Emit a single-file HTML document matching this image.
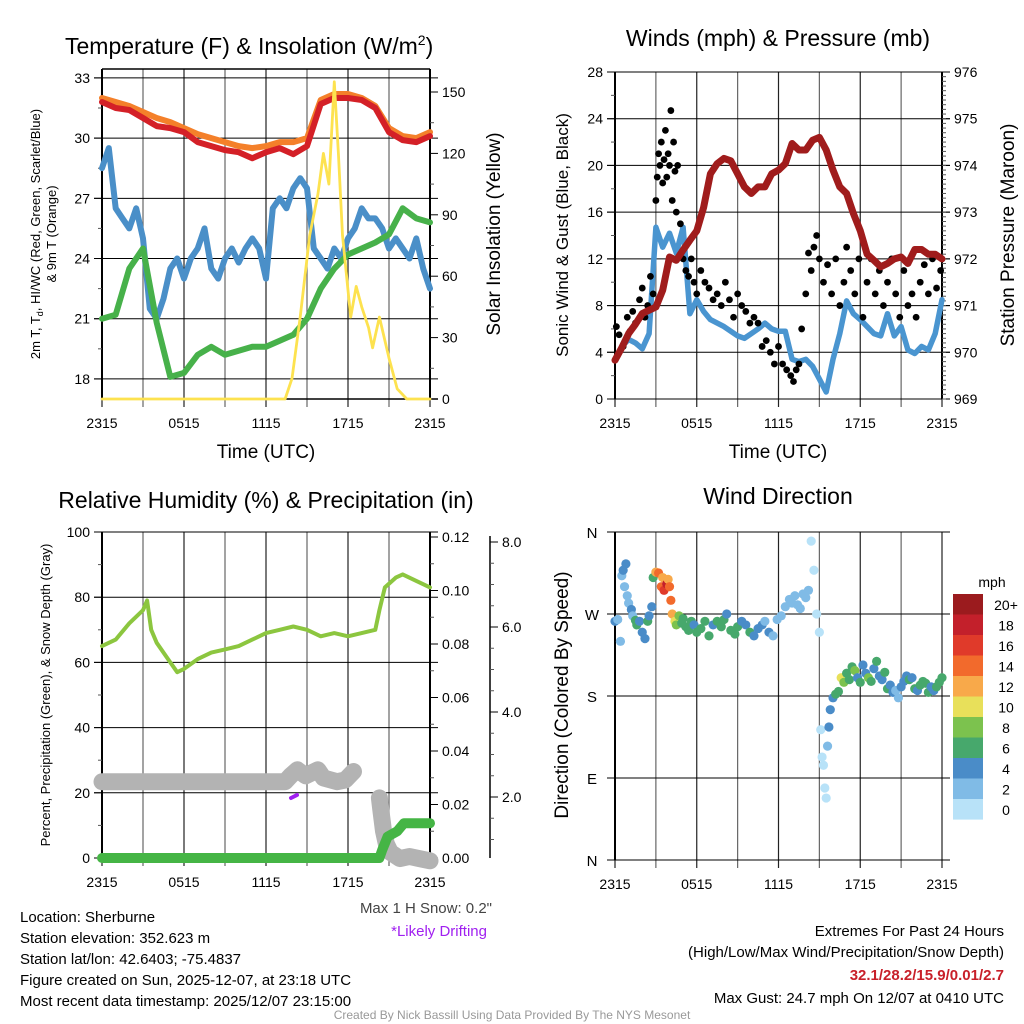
<!DOCTYPE html>
<html><head><meta charset="utf-8">
<style>
body{margin:0;background:#fff;}
svg{display:block;font-family:"Liberation Sans",sans-serif;}
</style></head><body>
<svg id="c" width="1024" height="1024" viewBox="0 0 1024 1024" xmlns="http://www.w3.org/2000/svg">
<rect width="1024" height="1024" fill="#fff"/>
<g id="g"></g>
<text x="65" y="54" font-size="23">Temperature (F) &amp; Insolation (W/m<tspan dy="-9" font-size="14">2</tspan><tspan dy="9">)</tspan></text>
<text x="778" y="46" font-size="23" text-anchor="middle">Winds (mph) &amp; Pressure (mb)</text>
<text x="266" y="508" font-size="23" text-anchor="middle">Relative Humidity (%) &amp; Precipitation (in)</text>
<text x="778" y="504" font-size="23" text-anchor="middle">Wind Direction</text>
<text x="266" y="458" font-size="19" text-anchor="middle">Time (UTC)</text>
<text x="778" y="458" font-size="19" text-anchor="middle">Time (UTC)</text>
<text transform="translate(40,234) rotate(-90)" font-size="13" text-anchor="middle">2m T, T<tspan dy="3" font-size="9">d</tspan><tspan dy="-3">, HI/WC (Red, Green, Scarlet/Blue)</tspan></text>
<text transform="translate(56,234) rotate(-90)" font-size="13" text-anchor="middle">&amp; 9m T (Orange)</text>
<text transform="translate(500,234) rotate(-90)" font-size="19" text-anchor="middle">Solar Insolation (Yellow)</text>
<text transform="translate(568,235) rotate(-90)" font-size="17" text-anchor="middle">Sonic Wind &amp; Gust (Blue, Black)</text>
<text transform="translate(1014,235) rotate(-90)" font-size="19" text-anchor="middle">Station Pressure (Maroon)</text>
<text transform="translate(50,695) rotate(-90)" font-size="13" text-anchor="middle">Percent, Precipitation (Green), &amp; Snow Depth (Gray)</text>
<text transform="translate(568,695) rotate(-90)" font-size="19" text-anchor="middle">Direction (Colored By Speed)</text>
<text x="992" y="587" font-size="14" text-anchor="middle">mph</text>
<text x="492" y="913" font-size="15" text-anchor="end" fill="#444">Max 1 H Snow: 0.2"</text>
<text x="487" y="936" font-size="15" text-anchor="end" fill="#a020f0">*Likely Drifting</text>
<g font-size="15">
<text x="20" y="922">Location: Sherburne</text>
<text x="20" y="943">Station elevation: 352.623 m</text>
<text x="20" y="964">Station lat/lon: 42.6403; -75.4837</text>
<text x="20" y="985">Figure created on Sun, 2025-12-07, at 23:18 UTC</text>
<text x="20" y="1006">Most recent data timestamp: 2025/12/07 23:15:00</text>
</g>
<g font-size="15" text-anchor="end">
<text x="1004" y="936">Extremes For Past 24 Hours</text>
<text x="1004" y="957">(High/Low/Max Wind/Precipitation/Snow Depth)</text>
<text x="1004" y="980" fill="#c8202a" font-weight="bold">32.1/28.2/15.9/0.01/2.7</text>
<text x="1004" y="1003">Max Gust: 24.7 mph On 12/07 at 0410 UTC</text>
</g>
<text x="512" y="1019" font-size="12" fill="#999" text-anchor="middle">Created By Nick Bassill Using Data Provided By The NYS Mesonet</text>
</svg>
<script>
// ---- data ----
const xTickLabels = ["2315","0515","1115","1715","2315"];
const hourly = [0,1,2,3,4,5,6,7,8,9,10,11,12,13,14,15,16,17,18,19,20,21,22,23,24];
const tempRed = [31.8,31.5,31.4,31.0,30.6,30.5,30.3,29.8,29.6,29.4,29.3,29.0,29.3,29.5,29.2,29.6,31.7,32.0,32.0,31.9,31.5,30.3,29.9,29.8,30.1];
const temp9mOrange = [32.0,31.8,31.6,31.3,31.0,30.8,30.5,30.2,30.0,29.8,29.6,29.5,29.6,29.8,29.8,30.0,31.9,32.2,32.2,32.0,31.6,30.5,30.1,30.0,30.3];
const dewGreen = [21.0,21.2,23.5,24.5,20.8,18.1,18.3,19.2,19.6,19.2,19.4,19.6,19.6,19.9,20.2,21.0,22.5,23.5,24.2,24.5,24.8,25.2,26.5,26.0,25.8];
const halfHourly = [0,0.5,1,1.5,2,2.5,3,3.5,4,4.5,5,5.5,6,6.5,7,7.5,8,8.5,9,9.5,10,10.5,11,11.5,12,12.5,13,13.5,14,14.5,15,15.5,16,16.5,17,17.5,18,18.5,19,19.5,20,20.5,21,21.5,22,22.5,23,23.5,24];
const windChillBlue = [28.5,29.5,26.5,26,25.5,26.5,25,21.5,21,22,23.5,24,23,24,24.5,25.5,23.5,23,24,24.5,23.8,24.5,25,24.5,23,26.5,27,26.5,27.5,28,27.5,24.5,24,23.5,24.5,24,25,25.5,26.5,26,26,25.5,24.5,25,24.5,24,25,23.5,22.5];
const solarH = [0,13.4,13.9,14.5,15.2,15.8,16.2,16.6,17.0,17.3,17.6,17.9,18.2,18.6,19.0,19.5,19.8,20.3,21.0,21.6,22.3,24];
const solarV = [0,0,10,40,80,100,120,105,155,120,80,60,40,55,45,35,25,40,20,5,0,0];
const windBlue = [3.4,4.5,5.1,4.8,4.3,5.6,14.7,13,14.2,12.5,14.7,7.3,8.5,7.5,6.8,6.5,6.2,5.8,5.4,5.2,5.6,6.0,6.5,6.0,5.8,5.8,3.4,3.2,3.4,2.8,1.7,0.6,3.4,5.6,8.4,7.3,6.8,6.2,5.6,5.4,7.3,5.4,6.2,4.2,3.9,4.5,4.2,5.6,8.5];
const pressure = [969.83,970.1,970.4,970.6,970.83,970.9,970.97,971.33,972.04,971.97,972.19,972.4,972.6,973.1,973.82,974.04,974.15,974.1,973.82,973.54,973.4,973.54,973.54,973.82,973.9,974.04,974.47,974.33,974.33,974.54,974.6,974.33,973.9,973.54,973.4,972.97,972.6,972.1,971.97,971.83,971.9,972.0,972.04,971.9,972.2,972.2,972.1,972.1,972.0];
const gustH = [0.1,0.3,0.6,0.9,1.1,1.3,1.5,1.8,2.0,2.2,2.4,2.6,2.8,3.0,3.1,3.2,3.3,3.4,3.5,3.6,3.7,3.8,3.9,4.0,4.1,4.2,4.3,4.4,4.5,4.6,4.8,5.0,5.2,5.4,5.6,5.8,6.0,6.3,6.6,6.9,7.2,7.5,7.8,8.1,8.4,8.7,9.0,9.3,9.6,9.9,10.2,10.5,10.8,11.1,11.4,11.7,12.0,12.3,12.6,12.9,13.1,13.3,13.5,13.7,14.0,14.2,14.4,14.6,14.8,15.0,15.3,15.6,15.9,16.2,16.5,16.8,17.0,17.3,17.6,17.9,18.2,18.5,18.8,19.1,19.4,19.7,20.0,20.3,20.6,20.9,21.2,21.5,21.8,22.1,22.4,22.7,23.0,23.3,23.6,23.9];
const gustV = [6.2,5.5,4.5,7,5.8,7.5,6.5,8.5,9.5,7,8,10.5,9,17,19,21,20,22,18.5,20.5,23,19,21,20,24.7,17,22,19.5,16,20,15,12,11,10.5,12,10,9,11,10,9.5,8.5,9,8,10,8.5,7,9,8,7.5,6.5,7,6.5,4.5,5,4,3,4.5,3,2.5,2,1.5,2.5,3,6,9,12.5,11,13,14,12,10,11.5,9,12,8,10,13,11,9,12,7,10,12,9,11,8,10,12,9,7,11,8,9,7,10,11.5,9,12,9.5,11];
const dirH = [0.0,0.2,0.4,0.5,0.6,0.7,0.8,0.9,1.0,1.2,1.3,1.5,1.6,1.8,2.0,2.2,2.4,2.5,2.7,2.8,3.0,3.2,3.4,3.5,3.6,3.8,3.9,4.0,4.1,4.2,4.4,4.5,4.7,4.9,5.0,5.2,5.4,5.6,5.8,6.0,6.3,6.6,6.9,7.2,7.5,7.8,8.0,8.2,8.5,8.8,9.0,9.3,9.6,9.9,10.2,10.5,10.8,11.0,11.3,11.6,11.9,12.2,12.5,12.8,13.0,13.2,13.4,13.6,13.8,14.0,14.2,14.4,14.6,14.8,15.0,15.1,15.2,15.3,15.4,15.5,15.6,15.7,15.8,16.0,16.2,16.4,16.6,16.8,17.0,17.2,17.4,17.6,17.8,18.0,18.2,18.4,18.6,18.8,19.0,19.2,19.4,19.6,19.8,20.0,20.2,20.4,20.6,20.8,21.0,21.2,21.4,21.6,21.8,22.0,22.2,22.4,22.6,22.8,23.0,23.2,23.4,23.6,23.8,24.0];
const dirV = [262,264,240,312,318,300,325,290,282,275,268,263,258,262,250,243,262,268,278,310,316,315,300,310,296,303,308,300,285,270,262,258,268,260,265,256,252,262,258,250,254,262,246,258,262,256,264,270,252,248,256,262,258,250,246,254,258,262,250,246,264,268,278,286,282,290,280,276,292,288,296,350,318,270,250,143,113,104,79,68,125,146,165,178,182,185,200,195,205,198,212,208,200,195,214,205,200,196,210,218,202,198,206,188,192,184,186,178,190,196,202,198,200,188,186,192,196,194,184,190,186,190,195,200];
const dirSpd = [4,3,2,2,4,2,4,2,2,4,2,6,6,4,4,4,6,4,4,7,12,15,14,12,16,18,12,14,14,12,10,8,8,6,6,6,6,6,4,6,6,6,6,4,6,6,6,4,6,6,6,4,4,6,4,4,4,2,4,2,2,2,2,2,2,2,2,2,2,2,2,0,0,0,0,0,0,0,0,0,2,4,4,4,6,6,10,8,6,6,6,8,4,6,4,4,8,6,4,6,4,4,6,6,4,4,2,2,4,4,4,6,4,6,4,6,6,6,6,4,4,6,6,7];
const rhH = [0,1,2,3,3.3,3.6,4,5,5.5,6,7,8,9,10,11,12,13,14,15,16,17,18,19,20,20.3,20.7,21.5,22,23,24];
const rhV = [65,67,72,76,79,70,66,60,57,58,61,63,64,65,67,69,70,71,70,68,69,68,69,70,76,83,86,87,85,83];
const precipH = [0,20.3,20.5,20.9,21.6,22.1,24];
const precipV = [0,0,0.003,0.008,0.010,0.013,0.013];
const snowH1 = [0,13.4,13.8,14.3,14.9,15.8,16.2,17.2,17.8,18.4];
const snowV1 = [2.36,2.36,2.5,2.64,2.5,2.64,2.45,2.36,2.4,2.6];
const snowH2 = [20.3,20.4,20.6,20.8,21.1,21.8,22.5,23.2,24];
const snowV2 = [1.98,1.7,1.2,0.9,0.7,0.55,0.6,0.55,0.5];
const cbLabels = ["20+","18","16","14","12","10","8","6","4","2","0"];
const cbColors = ["#9b1b1e","#c3202b","#e03a2a","#f26a2c","#f8a94a","#e8e05a","#7cc24e","#47a86c","#4a8cc8","#80bbe6","#b8e2f8"];

// ---- helpers ----
const NS="http://www.w3.org/2000/svg";
const G=document.getElementById('g');
function mk(tag,attrs,parent){const e=document.createElementNS(NS,tag);for(const k in attrs)e.setAttribute(k,attrs[k]);(parent||G).appendChild(e);return e;}
function lin(d0,d1,r0,r1){return v=>r0+(v-d0)*(r1-r0)/(d1-d0);}
function pathOf(xs,ys,fx,fy){return xs.map((x,i)=>(i?'L':'M')+fx(x).toFixed(1)+','+fy(ys[i]).toFixed(1)).join('');}

function frame(L,R,T,B,name){
  const fx=lin(0,24,L,R);
  for(let h=0;h<=24;h+=3){
    const x=fx(h);
    const l=mk('line',{x1:x,y1:T,x2:x,y2:B+8,stroke:h%6===0?'#222':'#666','stroke-width':1.2});
    
    
  }
  for(let i=0;i<5;i++){
    const t=mk('text',{x:fx(i*6),y:B+29,'font-size':14,'text-anchor':'middle'});
    t.textContent=xTickLabels[i];
    
    
  }
  return fx;
}
function yAxis(x,T,B,ticks,fy,labels,side,name,minor){
  const ax=mk('line',{x1:x,y1:T,x2:x,y2:B,stroke:'#000','stroke-width':2});
  
  
  ticks.forEach((v,i)=>{
    const y=fy(v);
    const d=side==='left'?-8:8;
    mk('line',{x1:x,y1:y,x2:x+d,y2:y,stroke:'#000','stroke-width':1});
    const t=mk('text',{x:x+(side==='left'?-12:12),y:y+5,'font-size':14,'text-anchor':side==='left'?'end':'start'});
    t.textContent=labels[i];
    
    
  });
  (minor||[]).forEach(v=>{const y=fy(v);mk('line',{x1:x,y1:y,x2:x+(side==='left'?-4:4),y2:y,stroke:'#555','stroke-width':1});});
}
function hgrid(L,R,ys,fy,name){
  ys.forEach(v=>{const l=mk('line',{x1:L-8,y1:fy(v),x2:R+8,y2:fy(v),stroke:'#000','stroke-width':1});
    
    });
}
function line(xs,ys,fx,fy,color,w,name){
  const p=mk('path',{d:pathOf(xs,ys,fx,fy),fill:'none',stroke:color,'stroke-width':w,'stroke-linejoin':'round','stroke-linecap':'round'});
  
  
  return p;
}

// ---- Panel 1 ----
{
 const L=102,R=430,T=69,B=399;
 const fx=frame(L,R,T,B,'temp');
 const fy=lin(17,33,399,77.9);
 const fs=lin(0,150,399,92);
 hgrid(L,R,[18,21,24,27,30,33],fy,'temp');
 yAxis(L,T,B,[18,21,24,27,30,33],fy,["18","21","24","27","30","33"],'left','temp-left',[19.5,22.5,25.5,28.5,31.5]);
 yAxis(R,T,B,[0,30,60,90,120,150],fs,["0","30","60","90","120","150"],'right','solar-right',[15,45,75,105,135]);
 mk('line',{x1:L,y1:T,x2:R,y2:T,stroke:'#000','stroke-width':1.5});
 mk('line',{x1:L,y1:B,x2:R+8,y2:B,stroke:'#000','stroke-width':1.5});
 line(halfHourly,windChillBlue,fx,fy,'#4a8fc8',6,'wind-chill-line');
 line(hourly,dewGreen,fx,fy,'#47b14a',6,'dewpoint-line');
 line(hourly,temp9mOrange,fx,fy,'#f4802a',6,'temp-9m-line');
 line(hourly,tempRed,fx,fy,'#d42027',6,'temp-2m-line');
 line(solarH,solarV,fx,fs,'#fde24f',2.8,'solar-line');
}
// ---- Panel 2 ----
{
 const L=615,R=942,T=72,B=399;
 const fx=frame(L,R,T,B,'wind');
 const fy=lin(0,28,399,72);
 const fp=lin(969,976,399,72);
 hgrid(L,R,[0,4,8,12,16,20,24,28],fy,'wind');
 yAxis(L,T,B,[0,4,8,12,16,20,24,28],fy,["0","4","8","12","16","20","24","28"],'left','wind-left',[2,6,10,14,18,22,26]);
 const pm=[];for(let i=0;i<70;i++)pm.push(969+i*0.1);
 yAxis(R,T,B,[969,970,971,972,973,974,975,976],fp,["969","970","971","972","973","974","975","976"],'right','pressure-right',pm);
 line(halfHourly,windBlue,fx,fy,'#4a95d0',5.5,'wind-speed-line');
 gustH.forEach((h,i)=>{const c=mk('circle',{cx:fx(h),cy:fy(gustV[i]),r:3.4,fill:'#000'});
   
   });
 line(halfHourly,pressure,fx,fp,'#a01c1c',7,'pressure-line');
}
// ---- Panel 3 ----
{
 const L=102,R=430,T=532,B=858;
 const fx=frame(L,R,T,B,'rh');
 const fy=lin(0,100,858,532);
 const fpr=lin(0,0.12,858,537);
 const fsn=lin(2,8,797,542);
 hgrid(L,R,[0,20,40,60,80,100],fy,'rh');
 yAxis(L,T,B,[0,20,40,60,80,100],fy,["0","20","40","60","80","100"],'left','rh-left',[10,30,50,70,90]);
 yAxis(R,T,B,[0,0.02,0.04,0.06,0.08,0.10,0.12],fpr,["0.00","0.02","0.04","0.06","0.08","0.10","0.12"],'right','precip-right',[0.01,0.03,0.05,0.07,0.09,0.11]);
 const ax=mk('line',{x1:490,y1:536,x2:490,y2:858,stroke:'#000','stroke-width':1.5});
 
 
 [2,4,6,8].forEach(v=>{const y=fsn(v);mk('line',{x1:490,y1:y,x2:498,y2:y,stroke:'#000'});
   const t=mk('text',{x:502,y:y+5,'font-size':14});t.textContent=v.toFixed(1);
   
   });
 [1,3,5,7,2.5,3.5,4.5,5.5,6.5,7.5,1.5].forEach(v=>{const y=fsn(v);if(y<858)mk('line',{x1:490,y1:y,x2:494,y2:y,stroke:'#555'});});
 line(snowH1,snowV1,fx,fsn,'#b3b3b3',17,'snow-depth-line');
 line(snowH2,snowV2,fx,fsn,'#b3b3b3',17,'snow-depth-line-end');
 const d=mk('path',{d:'M291,798 L297,795',stroke:'#a020f0','stroke-width':4,'stroke-linecap':'round'});
 
 
 line(rhH,rhV,fx,fy,'#8cc63f',4,'rh-line');
 line(precipH,precipV,fx,fpr,'#45b545',10,'precip-line');
}
// ---- Panel 4 ----
{
 const L=615,R=942,T=532,B=860;
 const fx=frame(L,R,T,B,'dir');
 const fy=lin(0,360,860,532);
 hgrid(L,R,[0,90,180,270,360],fy,'dir');
 const ax=mk('line',{x1:L,y1:T,x2:L,y2:B,stroke:'#000','stroke-width':2});
 
 
 const dl=["N","E","S","W","N"];
 [0,90,180,270,360].forEach((v,i)=>{const t=mk('text',{x:592,y:fy(v)+6,'font-size':15,'text-anchor':'middle'});t.textContent=dl[i];
   
   });
 dirH.forEach((h,i)=>{
   const s=dirSpd[i];const idx=Math.max(0,Math.min(10,10-Math.floor(s/2)));
   const c=mk('circle',{cx:fx(h),cy:fy(dirV[i]),r:4.6,fill:cbColors[idx]});
   
   
 });
 cbLabels.forEach((lab,i)=>{
   const y=594+i*20.5;
   const r=mk('rect',{x:953,y:y,width:30,height:20.6,fill:cbColors[i]});
   
   
   const t=mk('text',{x:1006,y:y+16,'font-size':14,'text-anchor':'middle'});t.textContent=lab;
   
   
 });
}
</script>
</body></html>
